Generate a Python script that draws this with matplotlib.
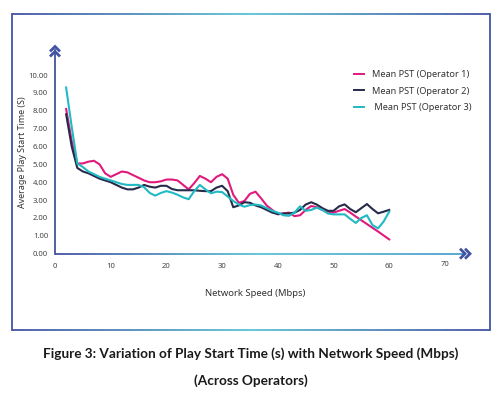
import numpy as np
import matplotlib
matplotlib.use("Agg")
import matplotlib.pyplot as plt
from matplotlib.collections import LineCollection
from matplotlib.colors import LinearSegmentedColormap

# network speed (Mbps)
speed = list(range(2, 61))

op1 = [8.1, 6.3, 5.05, 5.05, 5.15, 5.2, 5.0, 4.5, 4.3, 4.45,
       4.6, 4.55, 4.4, 4.25, 4.1, 4.0, 4.0, 4.05, 4.15, 4.15,
       4.1, 3.85, 3.6, 3.95, 4.35, 4.2, 4.0, 4.3, 4.45, 4.2,
       3.3, 2.85, 2.95, 3.35, 3.47, 3.1, 2.7, 2.45, 2.2, 2.25,
       2.3, 2.1, 2.15, 2.45, 2.67, 2.6, 2.45, 2.35, 2.3, 2.4,
       2.5, 2.3, 2.08, 1.87, 1.66, 1.45, 1.24, 1.02, 0.8]

op2 = [7.8, 6.0, 4.8, 4.6, 4.5, 4.35, 4.2, 4.1, 4.0, 3.85,
       3.7, 3.6, 3.6, 3.7, 3.85, 3.75, 3.7, 3.8, 3.8, 3.62,
       3.55, 3.55, 3.55, 3.55, 3.52, 3.5, 3.5, 3.7, 3.8, 3.5,
       2.6, 2.7, 2.88, 2.85, 2.7, 2.6, 2.45, 2.3, 2.22, 2.25,
       2.25, 2.3, 2.45, 2.75, 2.88, 2.75, 2.55, 2.4, 2.4, 2.65,
       2.76, 2.5, 2.32, 2.55, 2.78, 2.5, 2.26, 2.35, 2.45]

op3 = [9.3, 7.1, 5.05, 4.85, 4.6, 4.45, 4.3, 4.2, 4.1, 4.0,
       3.9, 3.85, 3.85, 3.85, 3.72, 3.4, 3.25, 3.4, 3.5, 3.42,
       3.3, 3.15, 3.05, 3.5, 3.85, 3.6, 3.38, 3.47, 3.45, 3.2,
       2.95, 2.75, 2.63, 2.72, 2.75, 2.7, 2.55, 2.4, 2.3, 2.15,
       2.12, 2.3, 2.65, 2.4, 2.45, 2.58, 2.45, 2.25, 2.2, 2.2,
       2.2, 1.95, 1.72, 2.0, 2.15, 1.6, 1.42, 1.8, 2.35]

labels = ["Mean PST (Operator 1)", "Mean PST (Operator 2)", " Mean PST (Operator 3)"]
colors = ["#e0197d", "#262b4a", "#20b9c4"]

yticks = [0, 1, 2, 3, 4, 5, 6, 7, 8, 9, 10]
xticks = [0, 10, 20, 30, 40, 50, 60, 70]

NAVY = "#4353a3"
TEAL = "#5cc3d3"
W, H = 502, 398

plt.rcParams['font.family'] = ['Noto Sans', 'DejaVu Sans']

fig = plt.figure(figsize=(W / 100, H / 100), dpi=100)


def fx(px):
    return px / W


def fy(py):
    return 1 - py / H


# axes placed so that x=0 sits at px 55 and y=0 at py 253.7
x0, y0 = 55, 253.7
ppx, ppy = 5.57, 17.87
xmax, ymax = 75, 11.4
ax = fig.add_axes([fx(x0), fy(y0), xmax * ppx / W, ymax * ppy / H])
ax.set_xlim(0, xmax)
ax.set_ylim(0, ymax)
ax.patch.set_alpha(0)

for y, lab, c in zip([op1, op2, op3], labels, colors):
    ax.plot(speed, y, color=c, lw=1.5, label=lab, solid_joinstyle="round")

for s in ["top", "right", "bottom"]:
    ax.spines[s].set_visible(False)
ax.spines["left"].set_color(NAVY)
ax.spines["left"].set_linewidth(1.3)

ax.set_yticks(yticks)
ax.set_yticklabels(["%.2f" % v for v in yticks])
ax.set_xticks(xticks)
ax.set_xticklabels([str(v) for v in xticks])
ax.tick_params(length=0, labelsize=5.5, labelcolor="#444444")
ax.tick_params(axis="x", pad=7)
ax.tick_params(axis="y", pad=5)
# the 70 label sits a bit higher
ax.get_xticklabels()[-1].set_y(0.012)

cmap = LinearSegmentedColormap.from_list("nt", [NAVY, TEAL, "#4f9fcf"])


def grad_line(xs, ys, cm, lw, transform):
    pts = np.column_stack([xs, ys]).reshape(-1, 1, 2)
    segs = np.concatenate([pts[:-1], pts[1:]], axis=1)
    lc = LineCollection(segs, cmap=cm, linewidths=lw, transform=transform,
                        clip_on=False)
    lc.set_array(np.linspace(0, 1, len(segs)))
    return lc


# x axis line with gradient
gx = np.linspace(0, 73.2, 80)
ax.add_collection(grad_line(gx, np.zeros_like(gx), cmap, 1.3, ax.transData))

# chevrons (axis arrows), drawn in figure pixels
def chevron(points):
    xs = [fx(p[0]) for p in points]
    ys = [fy(p[1]) for p in points]
    fig.add_artist(plt.Line2D(xs, ys, color=NAVY, lw=2.0,
                              transform=fig.transFigure,
                              solid_joinstyle="miter", solid_capstyle="butt"))

for a in (46.5, 51.5):
    chevron([(50, a + 5), (55, a), (60, a + 5)])
for a in (465, 470):
    chevron([(a - 5, y0 - 5), (a, y0), (a - 5, y0 + 5)])

fig.text(fx(255), fy(293), "Network Speed (Mbps)", ha="center", va="center",
         fontsize=6.8, color="#333333")
fig.text(fx(22.5), fy(152), "Average Play Start Time (S)", ha="center", va="center",
         rotation=90, fontsize=6.4, color="#333333")

leg = ax.legend(loc="upper left", bbox_to_anchor=(fx(346), fy(62)),
                bbox_transform=fig.transFigure, frameon=False, fontsize=6.6,
                handlelength=1.1, handletextpad=0.8, labelspacing=0.8,
                labelcolor="#333333")
for h in leg.get_lines():
    h.set_linewidth(1.4)

# outer frame: navy sides, top and bottom fading to teal in the middle
frame_cm = LinearSegmentedColormap.from_list("fr", [NAVY, TEAL, NAVY])
L, R, T, B = 12, 490, 14, 330
fig.add_artist(plt.Line2D([fx(L), fx(L)], [fy(T), fy(B)], color=NAVY, lw=1.3,
                          transform=fig.transFigure))
fig.add_artist(plt.Line2D([fx(R), fx(R)], [fy(T), fy(B)], color=NAVY, lw=1.3,
                          transform=fig.transFigure))
fxs = np.linspace(fx(L), fx(R), 120)
for yy in (T, B):
    fig.add_artist(grad_line(fxs, np.full_like(fxs, fy(yy)), frame_cm, 1.3,
                             fig.transFigure))

cap = dict(ha="center", va="center", fontsize=9.8, fontweight="bold",
           color="#1a1a1a", family=["Lato", "DejaVu Sans"])
fig.text(0.5, fy(354), "Figure 3: Variation of Play Start Time (s) with Network Speed (Mbps)", **cap)
fig.text(0.5, fy(381), "(Across Operators)", **cap)

fig.savefig("out.png", dpi=100, facecolor="white")
